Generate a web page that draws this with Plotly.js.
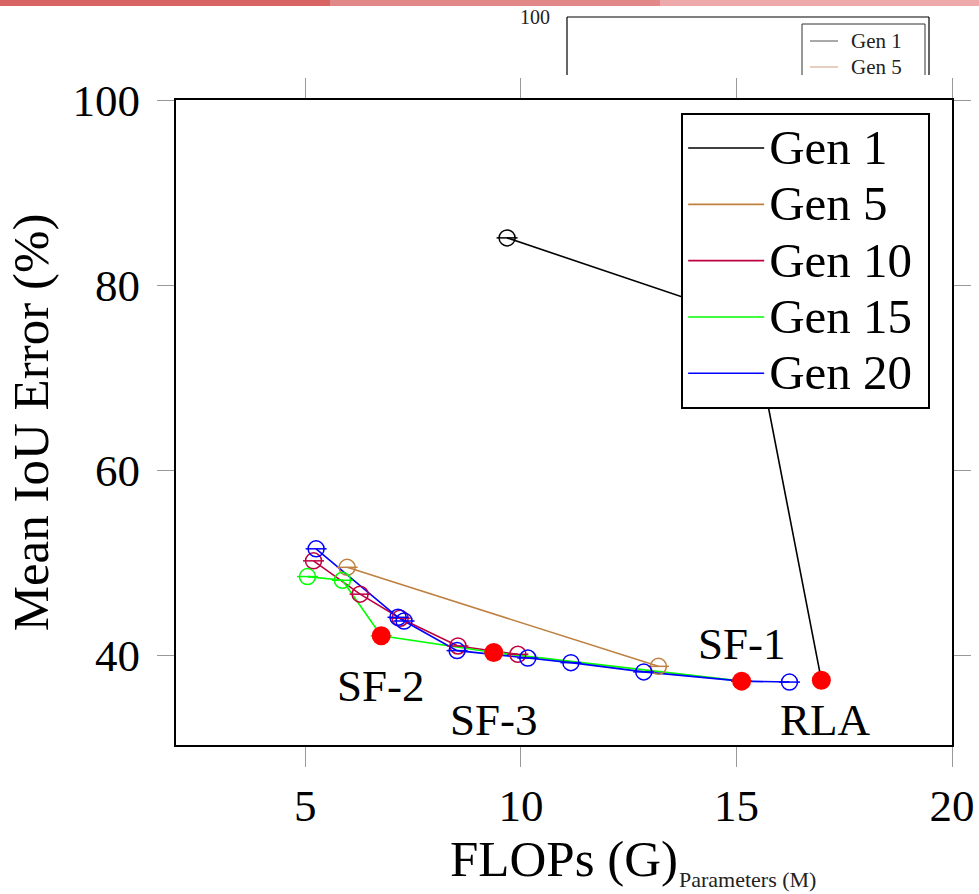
<!DOCTYPE html>
<html>
<head>
<meta charset="utf-8">
<script src="https://cdn.plot.ly/plotly-3.0.1.min.js"></script>
<style>html,body{margin:0;padding:0;background:#fff;}#chart{width:979px;height:894px;}</style>
</head>
<body>
<div id="chart"></div>
<script>
// ---- data ----
const seriesNames = ["Gen 1", "Gen 5", "Gen 10", "Gen 15", "Gen 20"];
const gen1X  = [9.68, 15.35, 16.97];
const gen1Y  = [85.1, 76.2, 37.3];
const gen5X  = [5.97, 13.19];
const gen5Y  = [49.5, 38.8];
const gen10X = [5.19, 6.27, 7.2, 8.54, 9.93];
const gen10Y = [50.2, 46.6, 44.0, 41.0, 40.1];
const gen15X = [5.05, 5.86, 6.76, 9.37, 15.12];
const gen15Y = [48.5, 48.1, 42.1, 40.3, 37.2];
const gen20X = [5.25, 7.15, 7.29, 8.52, 10.16, 11.16, 12.85, 15.12, 16.23];
const gen20Y = [51.5, 44.1, 43.7, 40.5, 39.7, 39.2, 38.2, 37.2, 37.1];
const selectedNames = ["SF-2", "SF-3", "SF-1", "RLA"];
const selectedX = [6.76, 9.37, 15.12, 16.97];
const selectedY = [42.1, 40.3, 37.2, 37.3];
const xTicks = [5, 10, 15, 20];
const yTicks = [40, 60, 80, 100];

// ---- styling ----
const colors = ["#000000", "#bf8040", "#bf0040", "#00ff00", "#0000ff"];
const seriesX = [gen1X, gen5X, gen10X, gen15X, gen20X];
const seriesY = [gen1Y, gen5Y, gen10Y, gen15Y, gen20Y];
// markers drawn on every point except the hidden bend of Gen 1
const markerIdx = [[0], [0, 1], [0, 1, 2, 3, 4], [0, 1, 2, 3, 4], [0, 1, 2, 3, 4, 5, 6, 7, 8]];
const FONT = "Liberation Serif, Times New Roman, serif";

const traces = [];
seriesNames.forEach((name, i) => {
  traces.push({
    x: seriesX[i], y: seriesY[i], type: "scatter", mode: "lines",
    name: '<span style="font-size:49px">' + name + '</span><span style="font-size:44px">&nbsp;</span>',
    line: {color: colors[i], width: 1.6}, legendgroup: name, showlegend: true
  });
});
seriesNames.forEach((name, i) => {
  const mx = markerIdx[i].map(k => seriesX[i][k]);
  const my = markerIdx[i].map(k => seriesY[i][k]);
  traces.push({
    x: mx, y: my, name: name, type: "scatter", mode: "markers",
    marker: {symbol: "circle-open", size: 16, color: colors[i], line: {width: 1.5, color: colors[i]}},
    legendgroup: name, showlegend: false, hoverinfo: "skip"
  });
  traces.push({
    x: mx, y: my, name: name, type: "scatter", mode: "markers",
    marker: {symbol: "line-ew-open", size: 15, color: colors[i], line: {width: 1.5, color: colors[i]}},
    legendgroup: name, showlegend: false, hoverinfo: "skip"
  });
});
traces.push({
  x: selectedX, y: selectedY, name: "Selected", type: "scatter", mode: "markers",
  marker: {symbol: "circle", size: 19, color: "#ff0000"}, showlegend: false
});

// label offsets (pixels) for selected architectures
const labelShift = {"SF-2": [0, -50], "SF-3": [0, -68], "SF-1": [0, 37], "RLA": [4, -40]};
const annotations = selectedNames.map((n, i) => ({
  x: selectedX[i], y: selectedY[i], xref: "x", yref: "y", text: n, showarrow: false,
  xshift: labelShift[n][0], yshift: labelShift[n][1],
  font: {family: FONT, size: 45, color: "#000"}
}));

// background fragments of a neighbouring figure (pixel -> paper helpers)
const L = 176, R = 952, T = 100, B = 745;
const px = v => (v - L) / (R - L);
const py = v => (B - v) / (B - T);
const shapes = [
  {type: "rect", xref: "paper", yref: "paper", x0: px(0), x1: px(330), y0: py(6), y1: py(0),
   fillcolor: "#d86464", line: {width: 0}, layer: "below"},
  {type: "rect", xref: "paper", yref: "paper", x0: px(330), x1: px(660), y0: py(6), y1: py(0),
   fillcolor: "#e28888", line: {width: 0}, layer: "below"},
  {type: "rect", xref: "paper", yref: "paper", x0: px(660), x1: px(979), y0: py(6), y1: py(0),
   fillcolor: "#eeaaaa", line: {width: 0}, layer: "below"},
  {type: "line", xref: "paper", yref: "paper", x0: px(567), x1: px(929), y0: py(17), y1: py(17), line: {color: "#000", width: 1.2}},
  {type: "line", xref: "paper", yref: "paper", x0: px(567), x1: px(567), y0: py(17), y1: py(75), line: {color: "#000", width: 1.2}},
  {type: "line", xref: "paper", yref: "paper", x0: px(929), x1: px(929), y0: py(17), y1: py(75), line: {color: "#000", width: 1.2}},
  {type: "line", xref: "paper", yref: "paper", x0: px(802), x1: px(925), y0: py(24), y1: py(24), line: {color: "#333", width: 1}},
  {type: "line", xref: "paper", yref: "paper", x0: px(802), x1: px(802), y0: py(24), y1: py(75), line: {color: "#333", width: 1}},
  {type: "line", xref: "paper", yref: "paper", x0: px(925), x1: px(925), y0: py(24), y1: py(75), line: {color: "#333", width: 1}},
  {type: "line", xref: "paper", yref: "paper", x0: px(810), x1: px(838), y0: py(41), y1: py(41), line: {color: "#555", width: 1}},
  {type: "line", xref: "paper", yref: "paper", x0: px(810), x1: px(838), y0: py(67), y1: py(67), line: {color: "#d0a080", width: 1}}
];
const bgText = [
  ["100", 535, 17, 20], ["Gen 1", 876, 41, 21], ["Gen 5", 876, 67, 21], ["Parameters (M)", 747, 879, 22]
];
bgText.forEach(t => annotations.push({
  x: px(t[1]), y: py(t[2]), xref: "paper", yref: "paper", text: t[0], showarrow: false,
  xanchor: "center", yanchor: "middle", font: {family: FONT, size: t[3], color: "#222"}
}));

const layout = {
  width: 979, height: 894,
  margin: {l: L, r: 979 - R, t: T, b: 894 - B},
  paper_bgcolor: "#fff", plot_bgcolor: "#fff",
  font: {family: FONT, color: "#000"},
  showlegend: true,
  legend: {
    x: 0.651, y: 0.98, xanchor: "left", yanchor: "top",
    bgcolor: "#fff", bordercolor: "#000", borderwidth: 2,
    font: {family: FONT, size: 41, color: "#000"},
    itemwidth: 76, tracegroupgap: 0
  },
  xaxis: {
    range: [2, 20], tickvals: xTicks, ticktext: xTicks.map(String),
    showgrid: false, zeroline: false,
    showline: true, linecolor: "#000", linewidth: 2, mirror: "ticks",
    ticks: "outside", ticklen: 20, tickcolor: "#999", tickwidth: 1,
    tickfont: {family: FONT, size: 45},
    title: {text: "FLOPs (G)", font: {family: FONT, size: 51}, standoff: 6}
  },
  yaxis: {
    range: [30.3, 100], tickvals: yTicks, ticktext: yTicks.map(String),
    showgrid: false, zeroline: false,
    showline: true, linecolor: "#000", linewidth: 2, mirror: "ticks",
    ticks: "outside", ticklen: 17, tickcolor: "#999", tickwidth: 1,
    ticklabelstandoff: 8,
    tickfont: {family: FONT, size: 45},
    title: {text: "Mean IoU Error (%)", font: {family: FONT, size: 51}, standoff: 8}
  },
  shapes: shapes,
  annotations: annotations
};

Plotly.newPlot("chart", traces, layout, {displayModeBar: false, staticPlot: true});
</script>
</body>
</html>
